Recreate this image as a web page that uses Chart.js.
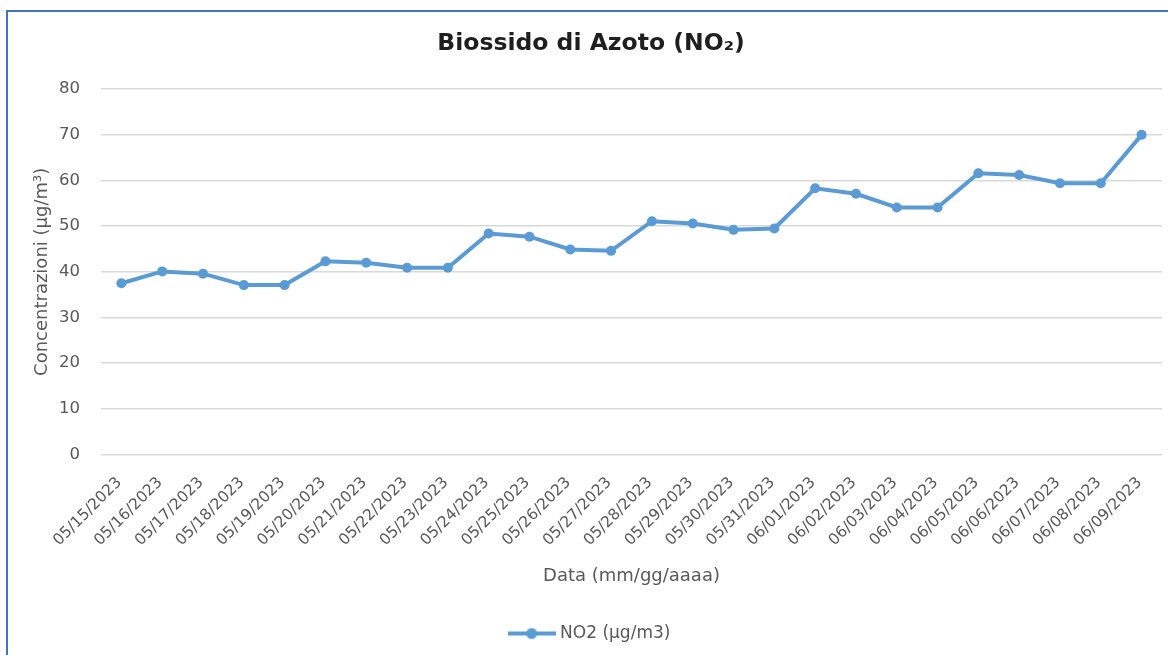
<!DOCTYPE html>
<html>
<head>
<meta charset="utf-8">
<script src="https://cdn.jsdelivr.net/npm/chart.js@4.4.1/dist/chart.umd.min.js"></script>
<style>
    body { margin: 0; background: #fff; overflow: hidden; }
    #wrap { position: relative; width: 1168px; height: 655px; }
    #frame { position: absolute; left: 6px; top: 10px; width: 1200px; height: 700px; border: 2px solid #4472C4; box-sizing: border-box; }
    #no2Chart { position: absolute; left: 0; top: 0; }
</style>
</head>
<body>
<div id="wrap">
    <div id="frame"></div>
    <canvas id="no2Chart" width="1168" height="655"></canvas>
</div>
<script>
// Data
const dates = [
    '05/15/2023', '05/16/2023', '05/17/2023', '05/18/2023', '05/19/2023', '05/20/2023',
    '05/21/2023', '05/22/2023', '05/23/2023', '05/24/2023', '05/25/2023', '05/26/2023',
    '05/27/2023', '05/28/2023', '05/29/2023', '05/30/2023', '05/31/2023', '06/01/2023',
    '06/02/2023', '06/03/2023', '06/04/2023', '06/05/2023', '06/06/2023', '06/07/2023',
    '06/08/2023', '06/09/2023'
];
const no2Values = [
    37.5, 40.1, 39.6, 37.1, 37.1, 42.3, 42.0, 40.9, 40.9, 48.4, 47.7, 44.9, 44.6,
    51.1, 50.6, 49.2, 49.5, 58.3, 57.1, 54.1, 54.1, 61.6, 61.2, 59.4, 59.4, 70.0
];
const yTicks = [0, 10, 20, 30, 40, 50, 60, 70, 80];

const blue = '#5B9BD5';
const grey = '#595959';
const font = 'DejaVu Sans';

// legend icon: line with a dot
const legendIcon = document.createElement('canvas');
legendIcon.width = 48;
legendIcon.height = 14;
const ic = legendIcon.getContext('2d');
ic.strokeStyle = blue;
ic.lineWidth = 4;
ic.beginPath();
ic.moveTo(0, 7);
ic.lineTo(48, 7);
ic.stroke();
ic.fillStyle = blue;
ic.beginPath();
ic.arc(24, 7, 5.5, 0, Math.PI * 2);
ic.fill();

const ctx = document.getElementById('no2Chart').getContext('2d');
const no2Chart = new Chart(ctx, {
    type: 'line',
    data: {
        labels: dates,
        datasets: [{
            label: 'NO2 (µg/m3)',
            data: no2Values,
            borderColor: blue,
            backgroundColor: blue,
            borderWidth: 4,
            pointRadius: 5,
            pointBorderWidth: 0,
            pointBackgroundColor: blue,
            fill: false,
            tension: 0
        }]
    },
    options: {
        responsive: false,
        animation: false,
        layout: {
            padding: { left: 20, right: 6, top: 0, bottom: 3 }
        },
        plugins: {
            title: {
                display: true,
                text: 'Biossido di Azoto (NO₂)',
                color: '#1f1f1f',
                font: { family: font, size: 23.5, weight: 'bold' },
                padding: { top: 29.5, bottom: 31.5 }
            },
            legend: {
                position: 'bottom',
                labels: {
                    color: grey,
                    font: { family: font, size: 17 },
                    usePointStyle: true,
                    pointStyle: legendIcon,
                    pointStyleWidth: 40,
                    padding: 3.5
                }
            },
            tooltip: { enabled: false }
        },
        scales: {
            x: {
                offset: true,
                grid: { display: false, drawTicks: false },
                border: { display: false },
                ticks: {
                    color: grey,
                    font: { family: font, size: 15.5 },
                    minRotation: 45,
                    maxRotation: 45,
                    autoSkip: false,
                    padding: 19,
                    labelOffset: -2
                },
                title: {
                    display: true,
                    text: 'Data (mm/gg/aaaa)',
                    color: grey,
                    font: { family: font, size: 18 },
                    padding: { top: 4, bottom: 34.2 }
                },
                afterFit: (scale) => {
                    scale.height = 167;
                    scale.paddingLeft = 0;
                    scale.paddingRight = 0;
                }
            },
            y: {
                min: 0,
                max: 80,
                afterBuildTicks: (scale) => { scale.ticks = yTicks.map(v => ({ value: v })); },
                grid: { color: '#d9d9d9', lineWidth: 1.5, drawTicks: false },
                border: { display: false },
                ticks: {
                    color: grey,
                    font: { family: font, size: 16.5 },
                    padding: 21
                },
                title: {
                    display: true,
                    text: 'Concentrazioni (µg/m³)',
                    color: grey,
                    font: { family: font, size: 18 },
                    padding: { top: 11.2, bottom: 4 }
                },
                afterFit: (scale) => { scale.width = 81; }
            }
        }
    }
});
</script>
</body>
</html>
